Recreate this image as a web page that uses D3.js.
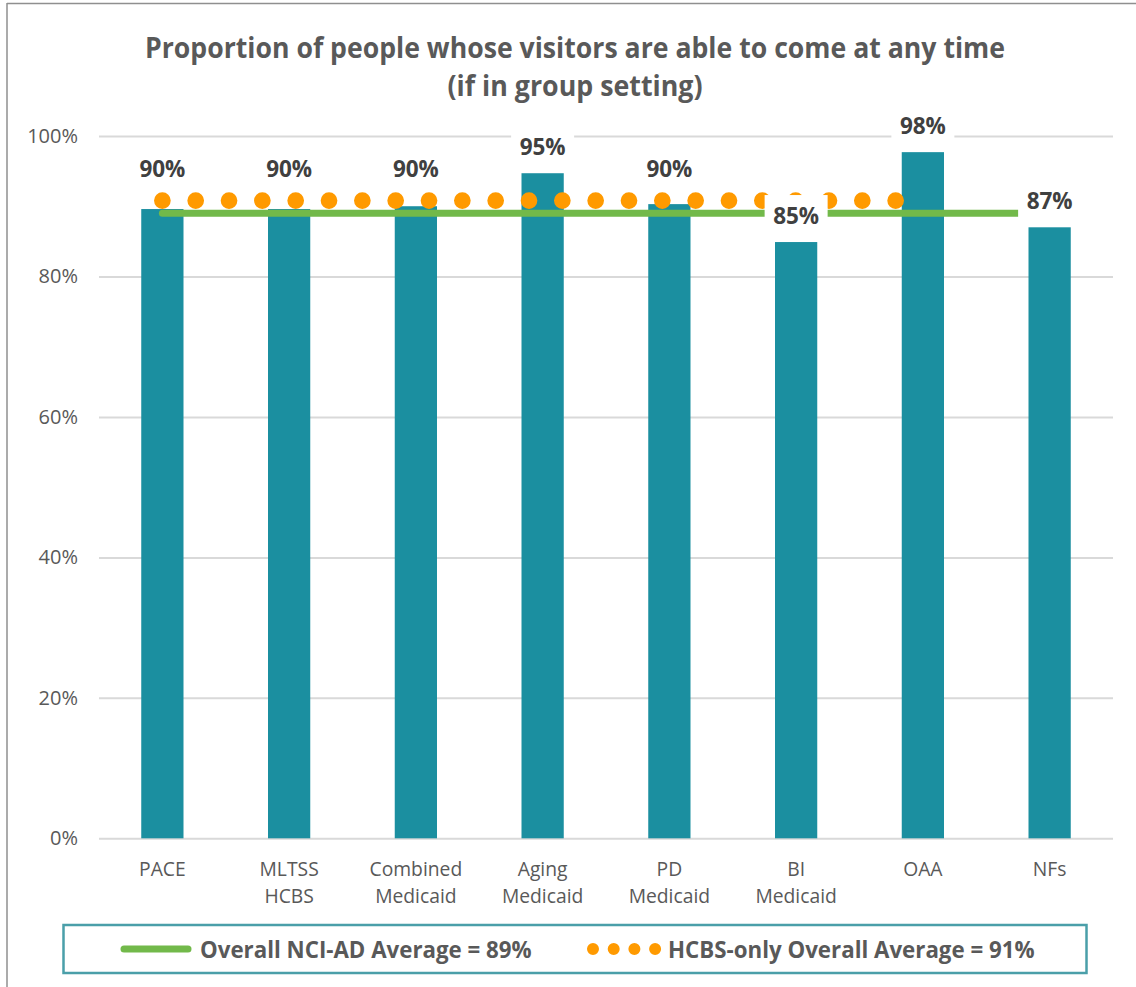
<!DOCTYPE html>
<html>
<head>
<meta charset="utf-8">
<script src="https://cdn.jsdelivr.net/npm/d3@7"></script>
<style>
  html, body { margin: 0; padding: 0; background: #fff; }
  svg { display: block; }
</style>
</head>
<body>
<svg id="chart" width="1136" height="987"></svg>
<script>
// ---------- data ----------
const categories = [
  ["PACE"], ["MLTSS", "HCBS"], ["Combined", "Medicaid"], ["Aging", "Medicaid"],
  ["PD", "Medicaid"], ["BI", "Medicaid"], ["OAA"], ["NFs"]
];
const barValues = [89.6, 89.6, 90.0, 94.7, 90.3, 84.9, 97.7, 87.0];
const barLabels = ["90%", "90%", "90%", "95%", "90%", "85%", "98%", "87%"];
const overallAverage = [89, 89, 89, 89, 89, 89, 89, 89];
const hcbsAverage = [90.8, 90.8, 90.8, 90.8, 90.8, 90.8, 90.8];
const yTicks = [0, 20, 40, 60, 80, 100];
const titleLines = ["Proportion of people whose visitors are able to come at any time", "(if in group setting)"];
const legendLabels = ["Overall NCI-AD Average = 89%", "HCBS-only Overall Average = 91%"];

// ---------- layout ----------
const svg = d3.select("#chart");
const plot = { left: 99, right: 1113, top: 136, bottom: 838.3 };
const teal = "#1B8FA0", green = "#72B94A", orange = "#FF9A00";
const textGray = "#595959", labelGray = "#404040";

const x = d3.scaleBand().domain(d3.range(categories.length))
  .range([plot.left, plot.right]).paddingInner(2/3).paddingOuter(1/3);
const y = d3.scaleLinear().domain([0, 100]).range([plot.bottom, plot.top]);
const cx = i => x(i) + x.bandwidth() / 2;

// outer chart border
svg.append("line").attr("x1", 7).attr("x2", 1136).attr("y1", 3.5).attr("y2", 3.5)
  .attr("stroke", "#8f8f8f").attr("stroke-width", 1.5);
svg.append("line").attr("x1", 7).attr("x2", 7).attr("y1", 3).attr("y2", 987)
  .attr("stroke", "#8f8f8f").attr("stroke-width", 1.5);

// title (condensed to match the original's narrow face)
const titleWidths = [860, 255];
const title = svg.append("g");
titleLines.forEach((t, i) => {
  title.append("text")
    .attr("x", 575).attr("y", 47 + i * 38)
    .attr("text-anchor", "middle").attr("dominant-baseline", "central")
    .attr("font-family", "'Open Sans', sans-serif")
    .attr("font-weight", "bold").attr("font-size", 28)
    .attr("textLength", titleWidths[i]).attr("lengthAdjust", "spacingAndGlyphs")
    .attr("fill", textGray)
    .text(t);
});

// gridlines + y axis labels
const yAxis = d3.axisLeft(y).tickValues(yTicks).tickFormat(d => d + "%")
  .tickSize(-(plot.right - plot.left)).tickPadding(21);
const yg = svg.append("g").attr("transform", `translate(${plot.left},0)`).call(yAxis);
yg.select(".domain").remove();
yg.selectAll(".tick line").attr("stroke", "#d9d9d9").attr("stroke-width", 2);
yg.selectAll(".tick text").attr("fill", textGray)
  .attr("font-family", "'Open Sans', sans-serif").attr("font-size", 20);

// bars
svg.append("g").selectAll("rect").data(barValues).join("rect")
  .attr("x", (d, i) => x(i)).attr("width", x.bandwidth())
  .attr("y", d => y(d)).attr("height", d => y(0) - y(d))
  .attr("fill", teal);

// x labels
const xg = svg.append("g");
categories.forEach((lines, i) => {
  const t = xg.append("text").attr("text-anchor", "middle")
    .attr("font-family", "'Open Sans', sans-serif").attr("font-size", 19.3)
    .attr("fill", textGray);
  lines.forEach((l, j) => {
    t.append("tspan").attr("x", cx(i)).attr("y", 868 + j * 27)
      .attr("dominant-baseline", "central").text(l);
  });
});

// overall average line
const lineGen = d3.line().x((d, i) => cx(i)).y(d => y(d));
svg.append("path").datum(overallAverage).attr("d", lineGen)
  .attr("fill", "none").attr("stroke", green).attr("stroke-width", 7)
  .attr("stroke-linecap", "round");

// HCBS-only dotted line
svg.append("path").datum(hcbsAverage).attr("d", lineGen)
  .attr("fill", "none").attr("stroke", orange).attr("stroke-width", 16.7)
  .attr("stroke-linecap", "round").attr("stroke-dasharray", "0 33.33");

// data labels
const lg = svg.append("g");
barValues.forEach((v, i) => {
  const top = y(v);
  const dotY = y(hcbsAverage[0]);
  const ly = Math.abs(top - dotY) < 15 ? dotY - 32 : top - 27;
  lg.append("rect").attr("x", cx(i) - 31.5).attr("y", ly - 20)
    .attr("width", 63).attr("height", 40).attr("fill", "#fff");
  lg.append("text").attr("x", cx(i)).attr("y", ly)
    .attr("text-anchor", "middle").attr("dominant-baseline", "central")
    .attr("font-family", "'Open Sans', sans-serif").attr("font-weight", "bold")
    .attr("font-size", 22.5).attr("fill", labelGray).text(barLabels[i]);
});

// legend
const leg = svg.append("g");
leg.append("rect").attr("x", 63.5).attr("y", 925).attr("width", 1023).attr("height", 48)
  .attr("fill", "#fff").attr("stroke", "#4A9FA9").attr("stroke-width", 2.5);
leg.append("line").attr("x1", 124).attr("x2", 188).attr("y1", 949).attr("y2", 949)
  .attr("stroke", green).attr("stroke-width", 7).attr("stroke-linecap", "round");
leg.append("text").attr("x", 200).attr("y", 949).attr("dominant-baseline", "central")
  .attr("font-family", "'Open Sans', sans-serif").attr("font-weight", "bold")
  .attr("font-size", 22.3).attr("fill", textGray).text(legendLabels[0]);
leg.append("line").attr("x1", 593).attr("x2", 656).attr("y1", 949).attr("y2", 949)
  .attr("stroke", orange).attr("stroke-width", 12).attr("stroke-linecap", "round")
  .attr("stroke-dasharray", "0 20.7");
leg.append("text").attr("x", 668).attr("y", 949).attr("dominant-baseline", "central")
  .attr("font-family", "'Open Sans', sans-serif").attr("font-weight", "bold")
  .attr("font-size", 22.3).attr("fill", textGray).text(legendLabels[1]);
</script>
</body>
</html>
